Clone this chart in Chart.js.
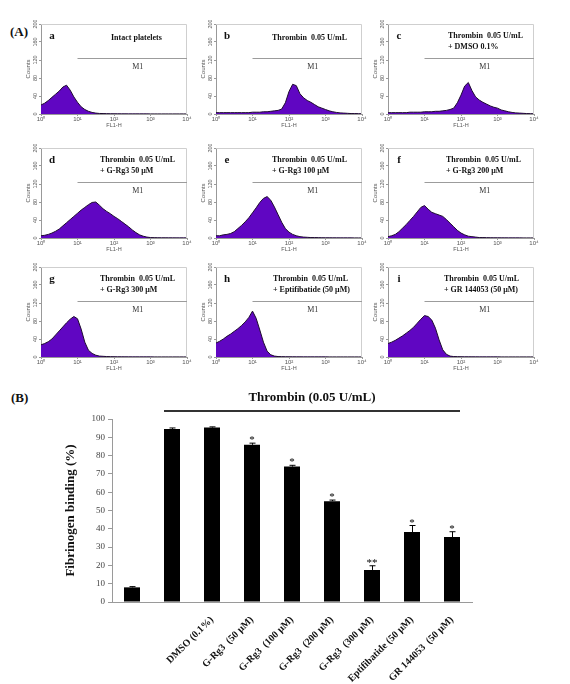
<!DOCTYPE html>
<html>
<head>
<meta charset="utf-8">
<script src="https://cdn.jsdelivr.net/npm/chart.js@4.4.0/dist/chart.umd.min.js"></script>
<style>
  body { margin: 0; background: #fff; }
  #fig { position: relative; width: 570px; height: 684px; overflow: hidden; }
  .box { position: absolute; }
  .tag { position: absolute; font-family: "Liberation Serif", serif; font-weight: bold; font-size: 13px; line-height: 16px; color: #111; }
</style>
</head>
<body>
<div id="fig">
  <div class="tag" style="left:10px;top:24px">(A)</div>
  <div class="tag" style="left:11px;top:390px">(B)</div>
</div>
<script>
// FL1-H channel positions, in decades (10^0 .. 10^4)
const channels = [0, 0.1, 0.2, 0.3, 0.4, 0.5, 0.6, 0.7, 0.8, 0.9, 1, 1.1, 1.2, 1.3, 1.4, 1.5, 1.6, 1.7, 1.8, 1.9, 2,
  2.1, 2.2, 2.3, 2.4, 2.5, 2.6, 2.7, 2.8, 2.9, 3, 3.1, 3.2, 3.3, 3.4, 3.5, 3.6, 3.7, 3.8, 3.9, 4];

// counts per channel (a .. i)
const countsA = [20, 24, 30, 37, 44, 51, 60, 64, 53, 38, 26, 16, 10, 6, 3.5, 2, 1.2, 1, 0.8, 0.6, 0.5,
  0.5, 0.4, 0.4, 0.3, 0.3, 0.3, 0.3, 0.3, 0.3, 0.2, 0.2, 0.2, 0.2, 0.2, 0.2, 0.2, 0.2, 0.2, 0.2, 0.2];
const countsB = [3, 3, 3, 3, 3, 3, 3, 3, 3, 3, 4, 4, 4, 5, 5, 6, 7, 8, 11, 25, 50,
  66, 63, 45, 36, 30, 26, 21, 16, 13, 10, 7, 5, 3.5, 2.5, 2, 1.5, 1, 1, 0.8, 0.5];
const countsC = [3, 3, 3, 3, 3, 3, 4, 4, 4, 4, 5, 5, 5, 6, 6, 7, 8, 10, 13, 25, 42,
  62, 70, 52, 38, 31, 26, 22, 18, 15, 13, 9, 7, 5, 3.5, 2.5, 2, 1.5, 1, 0.8, 0.5];
const countsD = [5, 6, 8, 11, 15, 20, 27, 34, 41, 48, 55, 62, 68, 74, 79, 80, 73, 65, 59, 54, 48,
  43, 37, 31, 25, 18, 12, 7, 4, 2, 1, 0.8, 0.6, 0.5, 0.5, 0.4, 0.4, 0.3, 0.3, 0.3, 0.3];
const countsE = [5, 5, 7, 8, 10, 14, 21, 28, 36, 45, 56, 67, 79, 88, 92, 84, 69, 52, 35, 21, 13,
  8, 5, 3, 2, 1.5, 1, 1, 0.8, 0.6, 0.5, 0.5, 0.4, 0.4, 0.3, 0.3, 0.3, 0.3, 0.2, 0.2, 0.2];
const countsF = [3, 5, 8, 14, 22, 30, 39, 48, 58, 68, 72, 64, 57, 54, 51, 48, 41, 33, 25, 17, 11,
  7, 4, 3, 2, 1, 1, 0.8, 0.6, 0.5, 0.5, 0.4, 0.4, 0.3, 0.3, 0.3, 0.3, 0.2, 0.2, 0.2, 0.2];
const countsG = [27, 30, 34, 40, 49, 58, 67, 76, 84, 90, 85, 62, 33, 15, 8, 4, 2, 1.5, 1, 0.8, 0.6,
  0.5, 0.5, 0.4, 0.4, 0.3, 0.3, 0.3, 0.3, 0.3, 0.3, 0.2, 0.2, 0.2, 0.2, 0.2, 0.2, 0.2, 0.2, 0.2, 0.2];
const countsH = [31, 35, 40, 46, 51, 57, 63, 70, 78, 88, 102, 86, 60, 33, 13, 5, 2, 1, 0.8, 0.6, 0.5,
  0.5, 0.4, 0.4, 0.3, 0.3, 0.3, 0.3, 0.3, 0.3, 0.3, 0.2, 0.2, 0.2, 0.2, 0.2, 0.2, 0.2, 0.2, 0.2, 0.2];
const countsI = [30, 33, 37, 42, 47, 53, 59, 66, 75, 84, 92, 90, 82, 64, 38, 16, 6, 2, 1, 0.8, 0.6,
  0.5, 0.5, 0.4, 0.4, 0.3, 0.3, 0.3, 0.3, 0.3, 0.3, 0.2, 0.2, 0.2, 0.2, 0.2, 0.2, 0.2, 0.2, 0.2, 0.2];

const panelLetters = ["a", "b", "c", "d", "e", "f", "g", "h", "i"];
const panelTitles = [
  ["Intact platelets"],
  ["Thrombin  0.05 U/mL"],
  ["Thrombin  0.05 U/mL", "+ DMSO 0.1%"],
  ["Thrombin  0.05 U/mL", "+ G-Rg3 50 μM"],
  ["Thrombin  0.05 U/mL", "+ G-Rg3 100 μM"],
  ["Thrombin  0.05 U/mL", "+ G-Rg3 200 μM"],
  ["Thrombin  0.05 U/mL", "+ G-Rg3 300 μM"],
  ["Thrombin  0.05 U/mL", "+ Eptifibatide (50 μM)"],
  ["Thrombin  0.05 U/mL", "+ GR 144053 (50 μM)"]
];
const titleOffsets = [70, 56, 60, 59, 56, 58, 59, 57, 56];
const decadeLabels = ["10⁰", "10¹", "10²", "10³", "10⁴"];

// M1 marker: from 10^1 to 10^4 at ~125 counts
const gateFrom = 1;
const gateTo = 4;
const gateLevel = 125;

// panel (B)
const barGroups = ["", "", "DMSO (0.1%)", "G-Rg3  (50 μM)", "G-Rg3  (100 μM)", "G-Rg3  (200 μM)",
  "G-Rg3  (300 μM)", "Eptifibatide (50 μM)", "GR 144053  (50 μM)"];
const bindingPct = [8, 94.6, 95.3, 85.9, 74, 55.1, 17.5, 38.2, 35.5];
const bindingErr = [0.4, 0.5, 0.4, 0.9, 0.7, 0.6, 2.3, 3.6, 2.9];
const signif = ["", "", "", "*", "*", "*", "**", "*", "*"];

const fig = document.getElementById("fig");
const serif = '"Liberation Serif", "Times New Roman", serif';
const sans = '"Liberation Sans", Arial, sans-serif';

function addCanvas(left, top, w, h) {
  const div = document.createElement("div");
  div.className = "box";
  div.style.left = left + "px";
  div.style.top = top + "px";
  const c = document.createElement("canvas");
  c.width = w;
  c.height = h;
  div.appendChild(c);
  fig.appendChild(div);
  return c;
}

const panelPlugin = {
  id: "panel",
  afterDraw(chart, args, opts) {
    const { ctx, chartArea: a, scales: { x, y } } = chart;
    ctx.save();
    ctx.strokeStyle = "#cfcfcf";
    ctx.lineWidth = 1;
    ctx.beginPath();
    ctx.moveTo(a.left, a.top + 0.5);
    ctx.lineTo(a.right - 0.5, a.top + 0.5);
    ctx.lineTo(a.right - 0.5, a.bottom);
    ctx.stroke();

    const gy = Math.round(y.getPixelForValue(gateLevel)) + 0.5;
    ctx.strokeStyle = "#9c9c9c";
    ctx.beginPath();
    ctx.moveTo(x.getPixelForValue(gateFrom), gy);
    ctx.lineTo(x.getPixelForValue(gateTo), gy);
    ctx.stroke();
    ctx.fillStyle = "#333";
    ctx.font = "8px " + serif;
    ctx.textAlign = "center";
    ctx.textBaseline = "middle";
    ctx.fillText("M1", x.getPixelForValue(2.65), y.getPixelForValue(104));

    ctx.fillStyle = "#111";
    ctx.font = "bold 11px " + serif;
    ctx.fillText(opts.letter, a.left + 11, a.top + 12);
    ctx.font = "bold 8px " + serif;
    ctx.textAlign = "left";
    const y0 = opts.lines.length === 1 ? 14 : 12;
    opts.lines.forEach((t, i) => ctx.fillText(t, a.left + opts.titleX, a.top + y0 + 11 * i));
    ctx.restore();
  }
};

function histogram(canvas, counts, k) {
  return new Chart(canvas, {
    type: "line",
    data: {
      datasets: [{
        data: channels.map((c, i) => ({ x: c, y: counts[i] })),
        fill: "origin",
        backgroundColor: "#6006c2",
        borderColor: "#1d0b2e",
        borderWidth: 1,
        pointRadius: 0,
        tension: 0
      }]
    },
    options: {
      responsive: false,
      animation: false,
      layout: { padding: { top: 4, right: 6, left: 0, bottom: 0 } },
      plugins: {
        legend: { display: false },
        tooltip: { enabled: false },
        panel: { letter: panelLetters[k], lines: panelTitles[k], titleX: titleOffsets[k] }
      },
      scales: {
        x: {
          type: "linear", min: 0, max: 4,
          afterFit: s => { s.height = 18; },
          ticks: { stepSize: 1, padding: 0, maxRotation: 0, autoSkip: false, color: "#555",
            font: { family: sans, size: 6 }, callback: v => decadeLabels[v] },
          grid: { drawOnChartArea: false, tickLength: 2, color: "#999" },
          border: { color: "#999" },
          title: { display: true, text: "FL1-H", color: "#555", font: { family: sans, size: 5.5 },
            padding: { top: 0, bottom: 3 } }
        },
        y: {
          min: 0, max: 200,
          afterFit: s => { s.width = 22; },
          ticks: { stepSize: 40, minRotation: 90, maxRotation: 90, crossAlign: "center", padding: -1,
            color: "#555", font: { family: sans, size: 5.5 } },
          grid: { drawOnChartArea: false, tickLength: 2, color: "#999" },
          border: { color: "#999" },
          title: { display: true, text: "Counts", color: "#555", font: { family: sans, size: 6 },
            padding: { top: 6, bottom: 0 } }
        }
      }
    },
    plugins: [panelPlugin]
  });
}

const allCounts = [countsA, countsB, countsC, countsD, countsE, countsF, countsG, countsH, countsI];
const colLeft = [41, 216, 388];
const rowTop = [24, 148, 267];
allCounts.forEach((counts, k) => {
  const c = addCanvas(colLeft[k % 3] - 22, rowTop[Math.floor(k / 3)] - 4, 174, 112);
  histogram(c, counts, k);
});

const barMarks = {
  id: "barMarks",
  afterDatasetsDraw(chart) {
    const { ctx, chartArea: a, scales: { y } } = chart;
    const bars = chart.getDatasetMeta(0).data;
    ctx.save();
    ctx.strokeStyle = "#000";
    ctx.fillStyle = "#000";
    ctx.lineWidth = 1;
    bars.forEach((b, i) => {
      const top = y.getPixelForValue(bindingPct[i] + bindingErr[i]);
      const bx = Math.round(b.x) + 0.5;
      ctx.beginPath();
      ctx.moveTo(bx, y.getPixelForValue(bindingPct[i]));
      ctx.lineTo(bx, top);
      ctx.moveTo(bx - 3, top);
      ctx.lineTo(bx + 3, top);
      ctx.stroke();
      if (signif[i]) {
        ctx.font = "11px " + serif;
        ctx.textAlign = "center";
        ctx.textBaseline = "alphabetic";
        ctx.fillText(signif[i], b.x, top);
      }
    });
    // thrombin bracket over bars 2..9
    const x0 = bars[1].x - bars[1].width / 2;
    const x1 = bars[8].x + bars[8].width / 2;
    ctx.strokeStyle = "#333";
    ctx.lineWidth = 2;
    ctx.beginPath();
    ctx.moveTo(x0, a.top - 8);
    ctx.lineTo(x1, a.top - 8);
    ctx.stroke();
    ctx.font = "bold 13px " + serif;
    ctx.textAlign = "center";
    ctx.textBaseline = "middle";
    ctx.fillStyle = "#111";
    ctx.fillText("Thrombin (0.05 U/mL)", (x0 + x1) / 2, a.top - 21);
    ctx.restore();
  }
};

new Chart(addCanvas(0, 380, 570, 304), {
  type: "bar",
  data: {
    labels: barGroups,
    datasets: [{ data: bindingPct, backgroundColor: "#000", barPercentage: 0.4, categoryPercentage: 1 }]
  },
  options: {
    responsive: false,
    animation: false,
    layout: { padding: { top: 39, right: 98, left: 0, bottom: 0 } },
    plugins: { legend: { display: false }, tooltip: { enabled: false } },
    scales: {
      x: {
        afterFit: s => { s.height = 82; },
        grid: { display: false, drawTicks: false },
        border: { color: "#9a9a9a" },
        ticks: { minRotation: 45, maxRotation: 45, autoSkip: false, padding: 12, color: "#111",
          font: { family: serif, size: 10, weight: "bold" } }
      },
      y: {
        min: 0, max: 100,
        afterFit: s => { s.width = 112; },
        ticks: { stepSize: 10, padding: 3, color: "#444", font: { family: serif, size: 9 } },
        grid: { drawOnChartArea: false, tickLength: 4, color: "#9a9a9a" },
        border: { color: "#9a9a9a" },
        title: { display: true, text: "Fibrinogen binding (%)", color: "#111",
          font: { family: serif, size: 13, weight: "bold" }, padding: { top: 63, bottom: 0 } }
      }
    }
  },
  plugins: [barMarks]
});
</script>
</body>
</html>
